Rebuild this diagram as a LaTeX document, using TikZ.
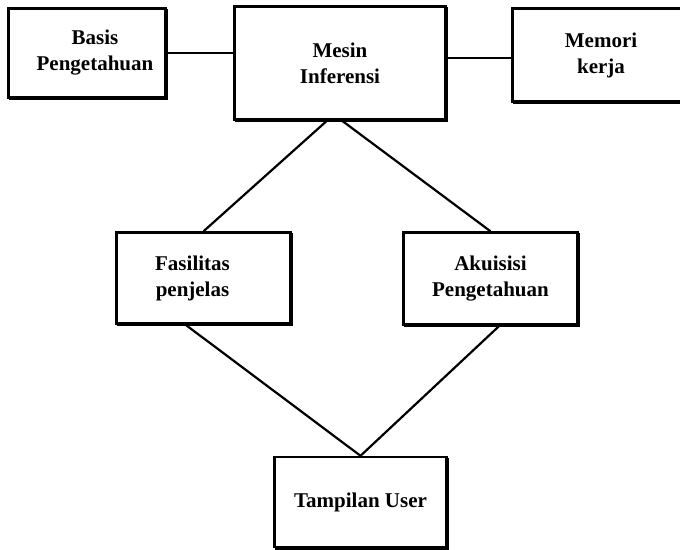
\documentclass[tikz,border=0pt]{standalone}
\usepackage{fontspec}
\setmainfont{Liberation Serif}
\begin{document}
\begin{tikzpicture}[x=1pt,y=-1pt,
  box/.style={draw=black, line width=2.4pt, fill=white, rectangle, align=center,
    inner sep=0pt, font=\fontsize{21}{26}\selectfont\bfseries},
  shade/.style={draw=black, line width=1.8pt, line cap=rect},
  link/.style={draw=black, line width=2.2pt}]
\useasboundingbox (0,0) rectangle (680,549);
\clip (0,0) rectangle (680,549);
\node[box, minimum width=157pt, minimum height=89pt] (basis) at (87,53) {\hspace*{16pt}Basis\\\hspace*{16pt}Pengetahuan};
\node[box, minimum width=211pt, minimum height=113pt] (mesin) at (340,63) {Mesin\\Inferensi};
\node[box, minimum width=169pt, minimum height=93pt] (memori) at (597,55) {\hspace*{8pt}Memori\\\hspace*{8pt}kerja};
\node[box, minimum width=174pt, minimum height=91pt] (fasilitas) at (203.5,278) {\hspace*{-22pt}Fasilitas\\\hspace*{-22pt}penjelas};
\node[box, minimum width=174pt, minimum height=92pt] (akuisisi) at (490.5,278.5) {Akuisisi\\Pengetahuan};
\node[box, minimum width=172pt, minimum height=90pt] (tampilan) at (360.5,502) {Tampilan User};
\foreach \n in {basis,mesin,memori,fasilitas,akuisisi,tampilan}{
  \draw[shade] ([shift={(3,0.4)}]\n.south west) -- ([shift={(0.4,0.4)}]\n.south east) -- ([shift={(0.4,3)}]\n.north east);
}
\draw[link] (basis.east) -- (basis.east -| mesin.west);
\draw[link] ([yshift=-3pt]memori.west) -- ([yshift=-3pt]memori.west -| mesin.east);
\draw[link] ([xshift=-13pt]mesin.south) -- (fasilitas.north);
\draw[link] ([xshift=2pt]mesin.south) -- (akuisisi.north);
\draw[link] ([xshift=-18pt]fasilitas.south) -- (tampilan.north);
\draw[link] ([xshift=9pt]akuisisi.south) -- (tampilan.north);
\end{tikzpicture}
\end{document}
